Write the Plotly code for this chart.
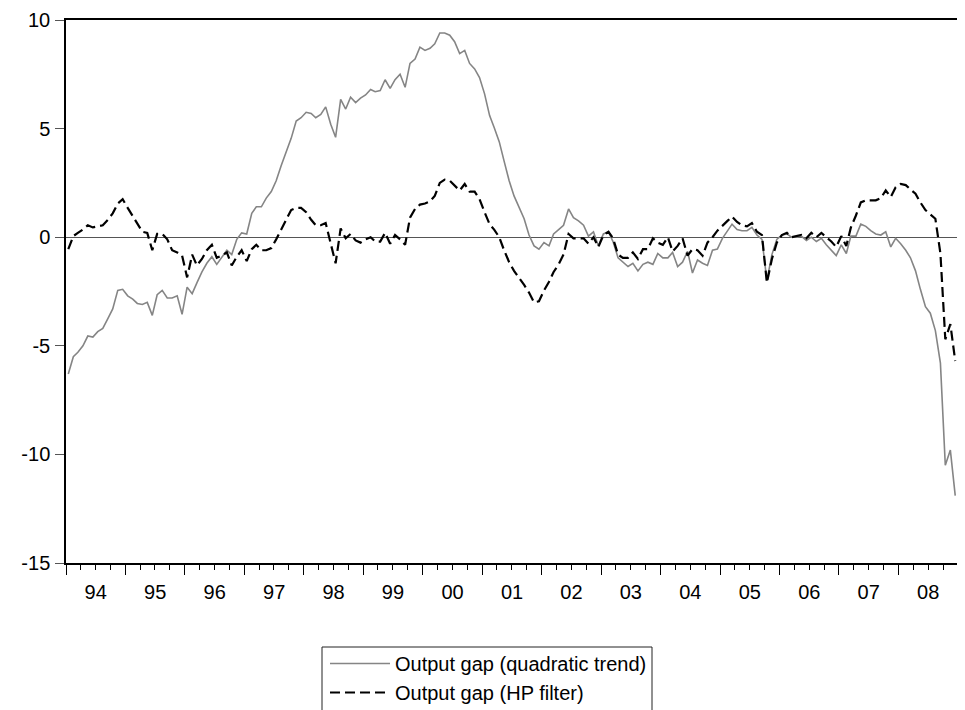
import pandas as pd
import plotly.graph_objects as go

# Monthly observations 1994M01 - 2008M12
months = (pd.date_range("1994-01-01", periods=180, freq="MS") + pd.Timedelta(days=14)).strftime("%Y-%m-%d").tolist()

gap_quadratic = [
    # 1994
    -6.3, -5.5, -5.3, -5.0, -4.55, -4.6, -4.35, -4.2, -3.75, -3.3, -2.45, -2.4,
    # 1995
    -2.7, -2.85, -3.05, -3.1, -3.0, -3.6, -2.65, -2.45, -2.8, -2.8, -2.7, -3.55,
    # 1996
    -2.3, -2.6, -2.1, -1.6, -1.2, -0.9, -1.25, -0.9, -0.6, -0.8, -0.1, 0.2,
    # 1997
    0.15, 1.1, 1.4, 1.4, 1.8, 2.1, 2.6, 3.3, 3.95, 4.55, 5.35, 5.5,
    # 1998
    5.75, 5.7, 5.5, 5.65, 6.0, 5.2, 4.6, 6.35, 5.9, 6.45, 6.2, 6.4,
    # 1999
    6.55, 6.8, 6.7, 6.75, 7.25, 6.85, 7.25, 7.5, 6.9, 8.0, 8.2, 8.75,
    # 2000
    8.6, 8.7, 8.9, 9.4, 9.4, 9.3, 9.0, 8.45, 8.6, 8.0, 7.75, 7.35,
    # 2001
    6.6, 5.6, 5.05, 4.4, 3.5, 2.6, 1.9, 1.4, 0.85, 0.1, -0.4, -0.55,
    # 2002
    -0.25, -0.4, 0.15, 0.35, 0.55, 1.3, 0.9, 0.75, 0.55, 0.05, 0.25, -0.4,
    # 2003
    0.15, 0.25, -0.2, -0.95, -1.15, -1.35, -1.2, -1.55, -1.25, -1.15, -1.25, -0.75,
    # 2004
    -0.95, -0.95, -0.7, -1.35, -1.15, -0.65, -1.65, -1.05, -1.2, -1.3, -0.6, -0.55,
    # 2005
    -0.05, 0.3, 0.6, 0.35, 0.3, 0.3, 0.45, 0.1, -0.1, -2.0, -0.8, -0.1,
    # 2006
    0.1, 0.15, 0.0, 0.0, 0.05, -0.15, 0.0, -0.2, -0.05, -0.35, -0.6, -0.85,
    # 2007
    -0.35, -0.75, 0.05, 0.05, 0.6, 0.5, 0.3, 0.15, 0.1, 0.25, -0.45, -0.05,
    # 2008
    -0.3, -0.6, -0.95, -1.55, -2.4, -3.2, -3.5, -4.3, -5.8, -10.5, -9.8, -11.9,
]

gap_hp = [
    # 1994
    -0.55, 0.05, 0.2, 0.35, 0.55, 0.45, 0.5, 0.55, 0.8, 1.1, 1.55, 1.75,
    # 1995
    1.35, 0.95, 0.6, 0.25, 0.2, -0.6, 0.15, 0.15, -0.1, -0.6, -0.7, -0.85,
    # 1996
    -1.85, -0.8, -1.3, -1.0, -0.6, -0.35, -0.95, -0.85, -0.7, -1.3, -0.9, -0.6,
    # 1997
    -1.1, -0.55, -0.35, -0.6, -0.6, -0.5, -0.1, 0.35, 0.8, 1.25, 1.35, 1.35,
    # 1998
    1.15, 0.8, 0.55, 0.55, 0.65, -0.3, -1.2, 0.4, -0.05, 0.15, -0.15, -0.25,
    # 1999
    -0.1, 0.0, -0.2, -0.2, 0.2, -0.3, 0.1, -0.1, -0.35, 0.9, 1.3, 1.5,
    # 2000
    1.55, 1.65, 1.9, 2.5, 2.65, 2.6, 2.4, 2.15, 2.45, 2.1, 2.1, 1.75,
    # 2001
    1.15, 0.6, 0.35, 0.0, -0.6, -1.15, -1.55, -1.85, -2.2, -2.55, -3.0, -2.95,
    # 2002
    -2.45, -2.05, -1.6, -1.25, -0.8, 0.15, -0.05, -0.05, -0.05, -0.3, 0.0, -0.45,
    # 2003
    0.1, 0.25, -0.05, -0.8, -0.95, -0.95, -0.7, -1.0, -0.55, -0.55, -0.05, -0.25,
    # 2004
    -0.35, 0.0, -0.65, -0.4, -0.05, -0.85, -0.55, -0.6, -0.85, -0.25, 0.0, 0.3,
    # 2005
    0.55, 0.75, 0.95, 0.7, 0.55, 0.5, 0.65, 0.25, 0.1, -2.1, -1.0, -0.25,
    # 2006
    0.1, 0.2, 0.0, 0.05, 0.1, -0.05, 0.2, 0.0, 0.2, 0.0, -0.2, -0.45,
    # 2007
    0.05, -0.4, 0.45, 1.0, 1.6, 1.7, 1.7, 1.7, 1.8, 2.15, 1.85, 2.3,
    # 2008
    2.45, 2.4, 2.2, 2.0, 1.6, 1.25, 1.05, 0.85, -0.75, -4.7, -4.0, -5.7,
]

series_names = ["Output gap (quadratic trend)", "Output gap (HP filter)"]
y_ticks = [-15, -10, -5, 0, 5, 10]

FONT = "Liberation Sans, Arial, sans-serif"
OFF = 8            # page body margin offset of the figure
W, H = 957, 702
L, R, T, B = 58, 7, 12, 147
plot_w = W - L - R
plot_h = H - T - B

def sx(px):  # screen x -> paper x
    return (px - OFF - L) / plot_w

def sy(py):  # screen y -> paper y
    return (H - B - (py - OFF)) / plot_h

fig = go.Figure()
fig.add_trace(go.Scatter(
    x=months, y=gap_quadratic, mode="lines", name=series_names[0],
    line=dict(color="#858585", width=1.6),
))
fig.add_trace(go.Scatter(
    x=months, y=gap_hp, mode="lines", name=series_names[1],
    line=dict(color="#000000", width=2.2, dash="10px,5px"),
))

# legend frame (cut off at the bottom like the reference)
fig.add_shape(
    type="rect", xref="paper", yref="paper",
    x0=sx(322), x1=sx(652), y0=sy(760), y1=sy(647),
    line=dict(color="#222222", width=1), fillcolor="white", layer="below",
)

fig.update_layout(
    width=W, height=H,
    margin=dict(l=L, r=R, t=T, b=B, autoexpand=False),
    paper_bgcolor="white", plot_bgcolor="white",
    font=dict(family=FONT, size=20, color="#000000"),
    showlegend=True,
    legend=dict(
        x=sx(325), y=sy(644), xanchor="left", yanchor="top",
        bgcolor="rgba(0,0,0,0)", borderwidth=0,
        font=dict(family=FONT, size=20, color="#000000"),
        itemwidth=60, tracegroupgap=0,
    ),
    xaxis=dict(
        type="date",
        range=["1994-01-01", "2009-01-01"],
        tick0="1994-01-01", dtick="M12",
        tickformat="%y", ticklabelmode="period",
        ticks="outside", ticklen=10, tickwidth=1, tickcolor="#000000",
        minor=dict(dtick="M3", tick0="1994-01-01", ticks="outside", ticklen=5,
                   tickwidth=1, tickcolor="#000000", showgrid=False),
        showline=True, linecolor="#000000", linewidth=1.5, mirror=True,
        showgrid=False, zeroline=False,
        tickfont=dict(family=FONT, size=20, color="#000000"),
    ),
    yaxis=dict(
        range=[-15, 10], tickvals=y_ticks, ticktext=[str(v) for v in y_ticks],
        ticks="outside", ticklen=9, tickwidth=1, tickcolor="#555555",
        showline=True, linecolor="#000000", linewidth=1.5,
        showgrid=False, zeroline=True, zerolinecolor="#555555", zerolinewidth=1,
        tickfont=dict(family=FONT, size=20, color="#000000"),
        ticklabelstandoff=1,
    ),
)

fig.write_html("out.html")
